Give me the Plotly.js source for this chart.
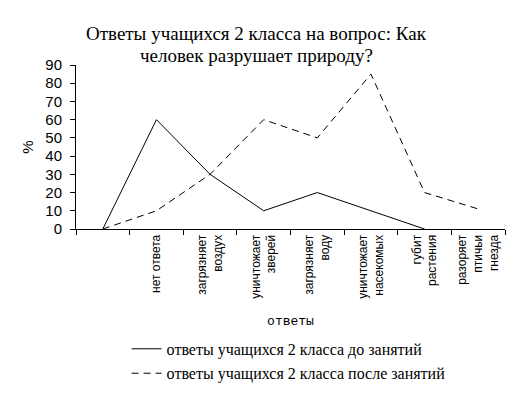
<!DOCTYPE html>
<html>
<head>
<meta charset="utf-8">
<script src="https://cdn.plot.ly/plotly-3.0.1.min.js"></script>
<style>html,body{margin:0;padding:0;background:#fff;}#chart{width:511px;height:397px;}</style>
</head>
<body>
<div id="chart"></div>
<script>
const categories = ["", "нет ответа", "загрязняет<br>воздух", "уничтожает<br>зверей", "загрязняет<br>воду", "уничтожает<br>насекомых", "губит<br>растения", "разоряет<br>птичьи<br>гнезда"];
const catIds = ["c0", "c1", "c2", "c3", "c4", "c5", "c6", "c7"];
const before = [0, 60, 30, 10, 20, 10, 0, null];
const after = [0, 10, 30, 60, 50, 85, 20, 11];
const seriesNames = ["ответы учащихся 2 класса до занятий", "ответы учащихся 2 класса после занятий"];
const titleLines = ["Ответы учащихся 2 класса на вопрос: Как", "человек разрушает природу?"];
const yTicks = [0, 10, 20, 30, 40, 50, 60, 70, 80, 90];

const serif = "Liberation Serif, Times New Roman, serif";
const sans = "Arial, Liberation Sans, sans-serif";

const traces = [
  {x: catIds, y: before, type: "scatter", mode: "lines", name: seriesNames[0],
   line: {color: "#000", width: 1}, legend: "legend", connectgaps: false},
  {x: catIds, y: after, type: "scatter", mode: "lines", name: seriesNames[1],
   line: {color: "#000", width: 1, dash: "7px,5px"}, legend: "legend2"}
];

const layout = {
  width: 511, height: 397,
  margin: {l: 76, r: 6, t: 65, b: 165},
  paper_bgcolor: "#fff", plot_bgcolor: "#fff",
  showlegend: true,
  annotations: [
    {text: titleLines[0], xref: "paper", yref: "paper", x: 0.42, y: 1.192, xanchor: "center", yanchor: "middle",
     showarrow: false, font: {family: serif, size: 19, color: "#000"}},
    {text: titleLines[1], xref: "paper", yref: "paper", x: 0.42, y: 1.058, xanchor: "center", yanchor: "middle",
     showarrow: false, font: {family: serif, size: 19, color: "#000"}}
  ],
  xaxis: {
    type: "category", tickmode: "array", tickvals: catIds, ticktext: categories,
    tickangle: -90, tickson: "boundaries", ticks: "outside", ticklen: 5, tickcolor: "#000",
    showline: true, linecolor: "#000", linewidth: 1, showgrid: false, zeroline: false,
    range: [-0.5, 7.5],
    tickfont: {family: sans, size: 12, color: "#000"},
    title: {text: "ответы", font: {family: "Liberation Mono, Courier New, monospace", size: 13, color: "#000"}, standoff: 18}
  },
  yaxis: {
    range: [0, 90], tickmode: "array", tickvals: yTicks, ticks: "outside", ticklen: 5, tickcolor: "#000",
    ticklabelstandoff: 5,
    showline: true, linecolor: "#000", linewidth: 1, showgrid: false, zeroline: false,
    tickfont: {family: sans, size: 15, color: "#000"},
    title: {text: "%", font: {family: sans, size: 15, color: "#000"}, standoff: 8}
  },
  legend: {x: 0.118, xanchor: "left", y: -0.731, yanchor: "middle", bgcolor: "rgba(0,0,0,0)",
           font: {family: serif, size: 16, color: "#000"}},
  legend2: {x: 0.118, xanchor: "left", y: -0.88, yanchor: "middle", bgcolor: "rgba(0,0,0,0)",
           font: {family: serif, size: 16, color: "#000"}}
};

Plotly.newPlot("chart", traces, layout, {displayModeBar: false, staticPlot: true});
</script>
</body>
</html>
